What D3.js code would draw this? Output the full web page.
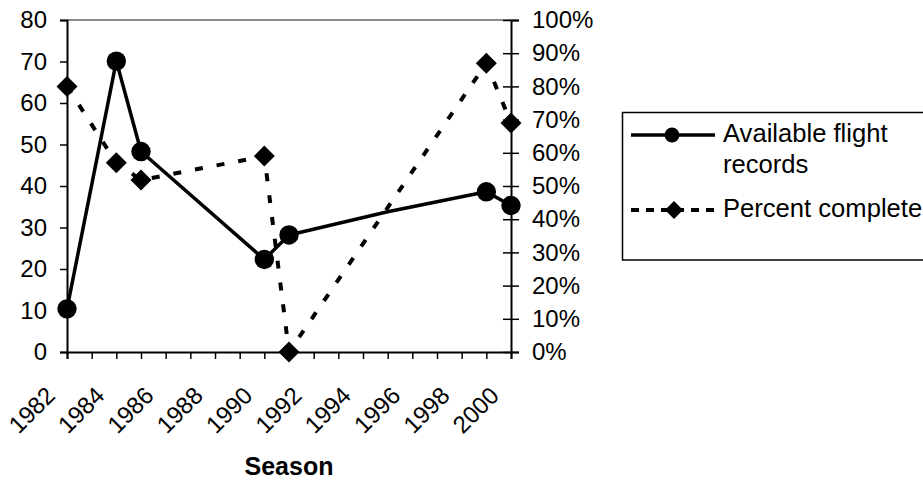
<!DOCTYPE html>
<html>
<head>
<meta charset="utf-8">
<script src="https://cdn.jsdelivr.net/npm/d3@7"></script>
<style>
  body { margin: 0; background: #fff; }
  text { font-family: "Liberation Sans", Arial, sans-serif; }
</style>
</head>
<body>
<div id="chart-area"></div>
<script>
// seasons on the category axis
var seasons = d3.range(1982, 2001);
// available flight records (null = no value in that season)
var records = [10.4, null, 70.1, 48.3, null, null, null, null, 22.3, 28.2,
               null, null, null, 33.8, 35.0, null, null, 38.6, 35.3];
// seasons on the records line that carry no marker
var unmarked = [1995, 1996];
// percent complete (0..1)
var percent = [0.80, null, 0.57, 0.518, null, null, null, null, 0.59, 0.0,
               null, null, null, null, null, null, null, 0.87, 0.69];
var leftTicks = [0, 10, 20, 30, 40, 50, 60, 70, 80];
var rightTicks = [0, 0.1, 0.2, 0.3, 0.4, 0.5, 0.6, 0.7, 0.8, 0.9, 1.0];
var seriesNames = ["Available flight records", "Percent complete"];

var W = 923, H = 482;
var plotL = 67, plotR = 511, plotT = 20, plotB = 352;

var svg = d3.select("#chart-area").append("svg")
    .attr("width", W)
    .attr("height", H);

//  scales

var x = d3.scalePoint()
    .domain(seasons)
    .range([plotL, plotR])
    .padding(0);

var yL = d3.scaleLinear().domain([0, 80]).range([plotB, plotT]);
var yR = d3.scaleLinear().domain([0, 1]).range([plotB, plotT]);

// top border of plot area
svg.append("line")
    .attr("x1", plotL).attr("x2", plotR)
    .attr("y1", plotT).attr("y2", plotT)
    .attr("stroke", "#8c8c8c").attr("stroke-width", 2);

//  axes

var fontSize = "24px";

var gL = svg.append("g")
    .attr("transform", "translate(" + plotL + ",0)")
    .call(d3.axisLeft(yL).tickValues(leftTicks).tickSize(7).tickPadding(13));

var gR = svg.append("g")
    .attr("transform", "translate(" + plotR + ",0)")
    .call(d3.axisRight(yR).tickValues(rightTicks).tickSize(8).tickPadding(13)
        .tickFormat(d3.format(".0%")));
gR.selectAll(".tick line").attr("x1", -8);

var gB = svg.append("g")
    .attr("transform", "translate(0," + plotB + ")")
    .call(d3.axisBottom(x).tickSize(7)
        .tickFormat((d) => (d % 2 === 0 ? d : "")));
gB.selectAll(".tick text")
    .attr("y", 0).attr("dy", 0)
    .attr("text-anchor", "end")
    .attr("transform", "translate(-11,45) rotate(-45)");

[gL, gR, gB].forEach((g) => {
    g.selectAll(".domain").attr("stroke", "#000").attr("stroke-width", 2);
    g.selectAll(".tick line").attr("stroke", "#000").attr("stroke-width", 1.5);
    g.selectAll(".tick text")
        .attr("fill", "#000")
        .style("font-size", fontSize)
        .style("font-family", "'Liberation Sans', Arial, sans-serif");
});

// axis title
svg.append("text")
    .attr("x", (plotL + plotR) / 2)
    .attr("y", 475)
    .attr("text-anchor", "middle")
    .style("font-size", "25px")
    .style("font-weight", "bold")
    .text("Season");

//  series

var recPts = seasons.map((s, i) => ({ s: s, v: records[i] })).filter((d) => d.v !== null);
var pctPts = seasons.map((s, i) => ({ s: s, v: percent[i] })).filter((d) => d.v !== null);

var recLine = d3.line().x((d) => x(d.s)).y((d) => yL(d.v));
var pctLine = d3.line().x((d) => x(d.s)).y((d) => yR(d.v));

svg.append("path")
    .datum(pctPts)
    .attr("d", pctLine)
    .attr("fill", "none")
    .attr("stroke", "#000")
    .attr("stroke-width", 4)
    .attr("stroke-dasharray", "8 14");

svg.append("path")
    .datum(recPts)
    .attr("d", recLine)
    .attr("fill", "none")
    .attr("stroke", "#000")
    .attr("stroke-width", 3.5)
    .attr("stroke-linejoin", "round");

var diamond = (cx, cy, r) =>
    "M" + cx + "," + (cy - r) + "L" + (cx + r) + "," + cy +
    "L" + cx + "," + (cy + r) + "L" + (cx - r) + "," + cy + "Z";

svg.selectAll(".diamond")
    .data(pctPts)
    .enter()
    .append("path")
    .attr("class", "diamond")
    .attr("d", (d) => diamond(x(d.s), yR(d.v), 10.5))
    .attr("fill", "#000");

svg.selectAll(".dot")
    .data(recPts.filter((d) => unmarked.indexOf(d.s) < 0))
    .enter()
    .append("circle")
    .attr("class", "dot")
    .attr("cx", (d) => x(d.s))
    .attr("cy", (d) => yL(d.v))
    .attr("r", 9.7)
    .attr("fill", "#000");

//  legend

var legendFont = "25.6px";
var lg = svg.append("g");
lg.append("rect")
    .attr("x", 622.5).attr("y", 112.5)
    .attr("width", 330).attr("height", 147.5)
    .attr("fill", "none")
    .attr("stroke", "#000").attr("stroke-width", 1.5);

lg.append("line")
    .attr("x1", 631).attr("x2", 715).attr("y1", 135).attr("y2", 135)
    .attr("stroke", "#000").attr("stroke-width", 3.5);
lg.append("circle").attr("cx", 672).attr("cy", 135).attr("r", 7.5).attr("fill", "#000");
lg.append("text")
    .attr("x", 723).attr("y", 142)
    .style("font-size", legendFont)
    .text("Available flight");
lg.append("text")
    .attr("x", 723).attr("y", 173)
    .style("font-size", legendFont)
    .text("records");

lg.append("line")
    .attr("x1", 631).attr("x2", 715).attr("y1", 210).attr("y2", 210)
    .attr("stroke", "#000").attr("stroke-width", 4)
    .attr("stroke-dasharray", "8 7");
lg.append("path").attr("d", diamond(674, 210, 9)).attr("fill", "#000");
lg.append("text")
    .attr("x", 723).attr("y", 217)
    .style("font-size", legendFont)
    .text(seriesNames[1]);
</script>
</body>
</html>
